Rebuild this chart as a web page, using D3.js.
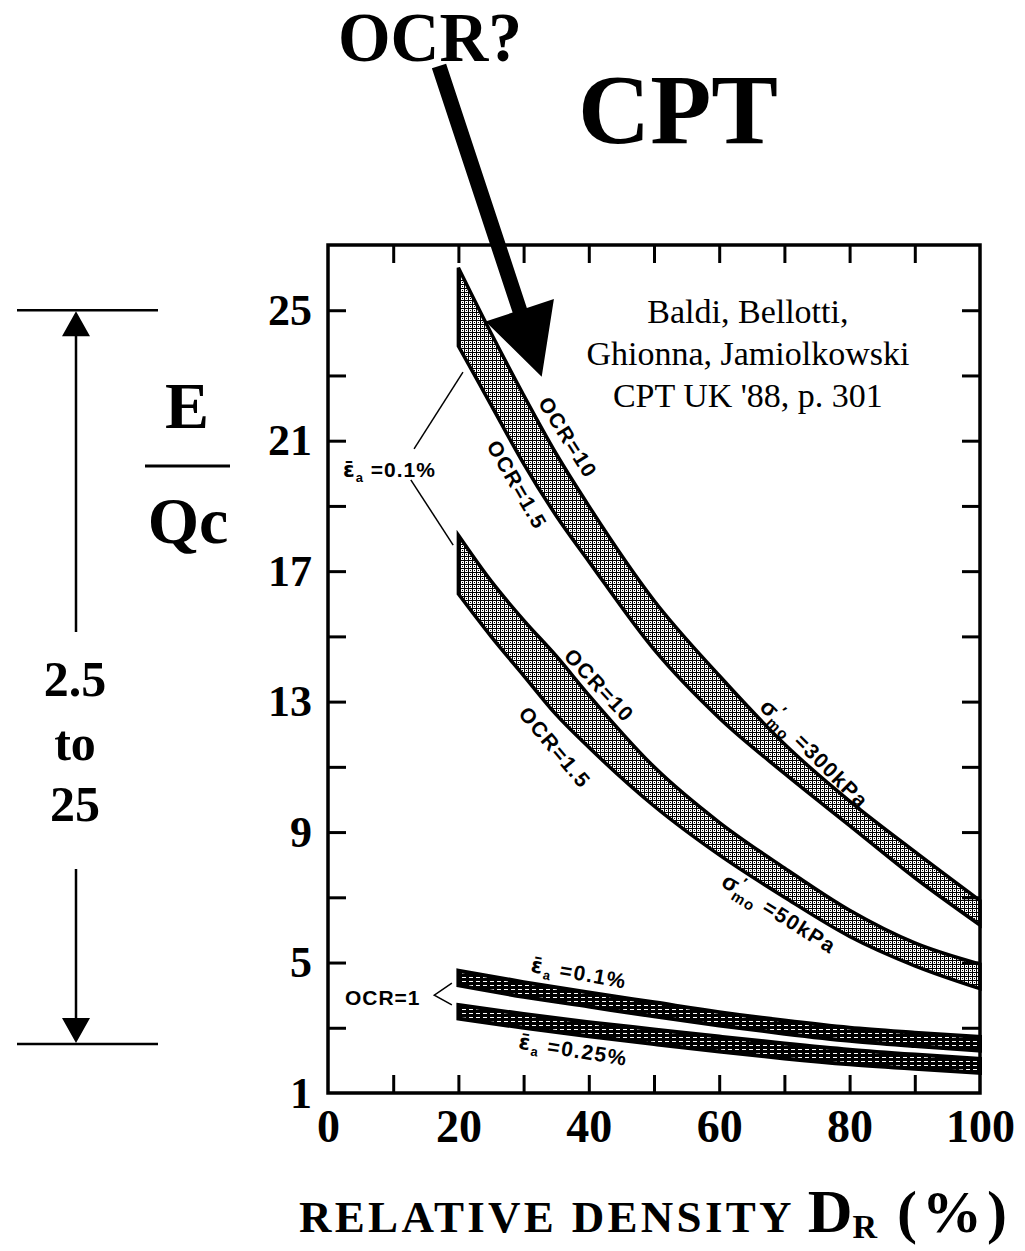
<!DOCTYPE html>
<html>
<head>
<meta charset="utf-8">
<script src="https://cdn.jsdelivr.net/npm/d3@7"></script>
<style>
  body { margin: 0; background: #fff; }
  svg { display: block; }
</style>
</head>
<body>
<div id="chart"></div>
<script>
// Relative density DR (%) where the band edges were read
const densityHigh = [20, 25, 30, 35, 40, 50, 60, 70, 80, 90, 100];
const densityLow = [20, 30, 40, 50, 60, 70, 80, 90, 100];

// E/qc, sigma'mo = 300 kPa band
const s300Ocr10 = [26.3, 24.3, 22.4, 20.6, 19.0, 16.1, 13.8, 11.7, 9.95, 8.4, 6.9];
const s300Ocr15 = [23.9, 22.1, 20.3, 18.7, 17.3, 14.6, 12.5, 10.8, 9.2, 7.6, 6.15];
// E/qc, sigma'mo = 50 kPa band
const s50Ocr10 = [18.1, 16.7, 15.5, 14.4, 13.2, 11.0, 9.3, 7.9, 6.6, 5.6, 4.95];
const s50Ocr15 = [16.3, 15.0, 13.8, 12.6, 11.6, 9.8, 8.3, 7.0, 5.8, 4.9, 4.2];
// E/qc, OCR = 1 bands
const e01Top = [4.75, 4.4, 4.08, 3.78, 3.48, 3.22, 3.0, 2.85, 2.72];
const e01Bot = [4.3, 3.95, 3.65, 3.35, 3.07, 2.82, 2.6, 2.44, 2.3];
const e025Top = [3.7, 3.42, 3.17, 2.95, 2.73, 2.52, 2.33, 2.18, 2.05];
const e025Bot = [3.28, 3.0, 2.74, 2.5, 2.27, 2.06, 1.88, 1.74, 1.62];

const yTicks = [3, 5, 7, 9, 11, 13, 15, 17, 19, 21, 23, 25];
const yLabels = [1, 5, 9, 13, 17, 21, 25];
const xTicks = [10, 20, 30, 40, 50, 60, 70, 80, 90];
const xLabels = [0, 20, 40, 60, 80, 100];

// curve labels: text, DR, E/qc at label centre, angle
const curveLabels = [
    { t: "OCR=10", x: 36.8, y: 21.1, a: 58 },
    { t: "OCR=1.5", x: 29.0, y: 19.65, a: 60 },
    { t: "OCR=10", x: 41.6, y: 13.5, a: 47 },
    { t: "OCR=1.5", x: 34.8, y: 11.6, a: 50 },
    { t: "sig", sub: "300kPa", x: 74.6, y: 11.4, a: 45 },
    { t: "sig", sub: "50kPa", x: 69.2, y: 6.5, a: 32 },
    { t: "eps", sub: "0.1%", x: 38.5, y: 4.68, a: 10 },
    { t: "eps", sub: "0.25%", x: 37.6, y: 2.32, a: 9 }
];

const sans = "Liberation Sans, Arial, sans-serif";
const serif = "Liberation Serif, Times New Roman, serif";

let svg = d3.select("#chart").append("svg")
    .attr("width", 1025)
    .attr("height", 1251);

let x = d3.scaleLinear().domain([0, 100]).range([328, 980]);
let y = d3.scaleLinear().domain([1, 27]).range([1093, 245]);

// fill patterns
let defs = svg.append("defs");
let hatch = defs.append("pattern").attr("id", "hatch")
    .attr("patternUnits", "userSpaceOnUse").attr("width", 4).attr("height", 4);
hatch.append("rect").attr("width", 4).attr("height", 4).attr("fill", "#fff");
hatch.append("path").attr("d", "M0,0h4v1h-4z M0,0h1v4h-1z M2,2h1v1h-1z").attr("fill", "#000");

let dash = defs.append("pattern").attr("id", "dash")
    .attr("patternUnits", "userSpaceOnUse").attr("width", 7).attr("height", 4);
dash.append("rect").attr("width", 7).attr("height", 4).attr("fill", "#000");
dash.append("rect").attr("x", 0).attr("y", 1).attr("width", 4).attr("height", 1).attr("fill", "#fff");

function band(xs, top, bot) {
    return xs.map((d, i) => ({ x: d, hi: top[i], lo: bot[i] }));
}

let area = d3.area()
    .x(d => x(d.x))
    .y0(d => y(d.lo))
    .y1(d => y(d.hi))
    .curve(d3.curveMonotoneX);

let bands = [
    { d: band(densityHigh, s300Ocr10, s300Ocr15), fill: "url(#hatch)", sw: 3.5 },
    { d: band(densityHigh, s50Ocr10, s50Ocr15), fill: "url(#hatch)", sw: 3.5 },
    { d: band(densityLow, e01Top, e01Bot), fill: "url(#dash)", sw: 4 },
    { d: band(densityLow, e025Top, e025Bot), fill: "url(#dash)", sw: 4 }
];

bands.forEach(b => {
    svg.append("path")
        .datum(b.d)
        .attr("fill", b.fill)
        .attr("stroke", "#000")
        .attr("stroke-width", b.sw)
        .attr("stroke-linejoin", "miter")
        .attr("d", area);
});

// epsilon-bar with subscript a, then the value
function epsText(t, val) {
    t.append("tspan").attr("font-family", "DejaVu Sans, sans-serif").text("ε\u0304");
    t.append("tspan").attr("font-size", 13).attr("dy", 5).text("a");
    t.append("tspan").attr("dy", -5).text(" =" + val);
}

// labels along the curves
curveLabels.forEach(l => {
    let t = svg.append("text")
        .attr("transform", "translate(" + x(l.x) + "," + y(l.y) + ") rotate(" + l.a + ")")
        .attr("text-anchor", "middle")
        .attr("dy", "0.35em")
        .attr("font-family", sans)
        .attr("font-weight", "bold")
        .attr("font-size", 21)
        .attr("letter-spacing", 1.5);
    if (l.t === "sig") {
        t.append("tspan").attr("font-size", 23).text("σ");
        t.append("tspan").attr("font-size", 16).attr("dy", -9).text("′");
        t.append("tspan").attr("font-size", 15).attr("dx", -7).attr("dy", 15).text("mo");
        t.append("tspan").attr("dy", -6).text(" =" + l.sub);
    } else if (l.t === "eps") {
        epsText(t, l.sub);
    } else {
        t.text(l.t);
    }
});

// eps label with two leaders
let epsLbl = svg.append("text")
    .attr("x", x(2.3)).attr("y", y(19.9))
    .attr("font-family", sans).attr("font-weight", "bold")
    .attr("font-size", 21).attr("letter-spacing", 1);
epsText(epsLbl, "0.1%");

let leaders = [
    [[13.2, 20.75], [20.7, 23.1]],
    [[12.7, 19.8], [19.2, 17.8]],
    [[19.0, 4.37], [16.3, 4.0], [19.0, 3.7]]
];
leaders.forEach(p => {
    svg.append("path")
        .attr("d", d3.line().x(d => x(d[0])).y(d => y(d[1]))(p))
        .attr("fill", "none")
        .attr("stroke", "#000")
        .attr("stroke-width", 1.5);
});

svg.append("text")
    .attr("x", x(2.6)).attr("y", y(3.7))
    .attr("font-family", sans).attr("font-weight", "bold")
    .attr("font-size", 21).attr("letter-spacing", 1)
    .text("OCR=1");

// citation
["Baldi, Bellotti,", "Ghionna, Jamiolkowski", "CPT UK '88, p. 301"].forEach((s, i) => {
    svg.append("text")
        .attr("x", x(64.4))
        .attr("y", y(24.62) + i * 42)
        .attr("text-anchor", "middle")
        .attr("font-family", serif)
        .attr("font-size", 34)
        .text(s);
});

// frame and ticks
function inward(g) {
    g.select(".domain").remove();
    g.selectAll("line").attr("stroke-width", 3);
}
svg.append("g").attr("transform", "translate(" + x(0) + ",0)")
    .call(d3.axisLeft(y).tickValues(yTicks).tickSize(-18).tickFormat("")).call(inward);
svg.append("g").attr("transform", "translate(" + x(100) + ",0)")
    .call(d3.axisRight(y).tickValues(yTicks).tickSize(-18).tickFormat("")).call(inward);
svg.append("g").attr("transform", "translate(0," + y(27) + ")")
    .call(d3.axisTop(x).tickValues(xTicks).tickSize(-18).tickFormat("")).call(inward);
svg.append("g").attr("transform", "translate(0," + y(1) + ")")
    .call(d3.axisBottom(x).tickValues(xTicks).tickSize(-18).tickFormat("")).call(inward);

svg.append("rect")
    .attr("x", x(0)).attr("y", y(27))
    .attr("width", x(100) - x(0)).attr("height", y(1) - y(27))
    .attr("fill", "none").attr("stroke", "#000").attr("stroke-width", 3.5);

// tick labels
let yAx = svg.append("g").attr("transform", "translate(" + x(0) + ",0)")
    .call(d3.axisLeft(y).tickValues(yLabels).tickSize(0).tickPadding(16));
yAx.select(".domain").remove();
yAx.selectAll("text").attr("font-family", serif).attr("font-weight", "bold").attr("font-size", 44);

let xAx = svg.append("g").attr("transform", "translate(0," + y(1) + ")")
    .call(d3.axisBottom(x).tickValues(xLabels).tickSize(0).tickPadding(16));
xAx.select(".domain").remove();
xAx.selectAll("text").attr("font-family", serif).attr("font-weight", "bold").attr("font-size", 46);

// x axis title
let xt = svg.append("text")
    .attr("x", 299).attr("y", 1232)
    .attr("font-family", serif).attr("font-weight", "bold")
    .attr("font-size", 45).attr("letter-spacing", 3.3);
xt.append("tspan").text("RELATIVE DENSITY ");
xt.append("tspan").attr("font-size", 62).attr("letter-spacing", 0).text("D");
xt.append("tspan").attr("font-size", 34).attr("dy", 6).attr("letter-spacing", 0).text("R");
xt.append("tspan").attr("font-size", 60).attr("dy", -6).attr("letter-spacing", 5).text(" (%)");

// y axis title E / Qc
svg.append("text").attr("x", 187).attr("y", 428)
    .attr("text-anchor", "middle").attr("font-family", serif)
    .attr("font-weight", "bold").attr("font-size", 66).text("E");
svg.append("line").attr("x1", 145).attr("x2", 230).attr("y1", 466).attr("y2", 466)
    .attr("stroke", "#000").attr("stroke-width", 3);
svg.append("text").attr("x", 188).attr("y", 543)
    .attr("text-anchor", "middle").attr("font-family", serif)
    .attr("font-weight", "bold").attr("font-size", 66).text("Qc");

// range dimension 2.5 to 25
let dimTop = y(25), dimBot = y(2.5), dimX = 76;
[dimTop, dimBot].forEach(v => {
    svg.append("line").attr("x1", 17).attr("x2", 158).attr("y1", v).attr("y2", v)
        .attr("stroke", "#000").attr("stroke-width", 2.5);
});
svg.append("line").attr("x1", dimX).attr("x2", dimX).attr("y1", dimTop + 20).attr("y2", 632)
    .attr("stroke", "#000").attr("stroke-width", 2.5);
svg.append("line").attr("x1", dimX).attr("x2", dimX).attr("y1", 869).attr("y2", dimBot - 20)
    .attr("stroke", "#000").attr("stroke-width", 2.5);
svg.append("path")
    .attr("d", "M" + dimX + "," + (dimTop + 1) + "l-14,25h28z M" + dimX + "," + (dimBot - 1) + "l-14,-25h28z")
    .attr("fill", "#000");
[["2.5", 696], ["to", 760], ["25", 821]].forEach(s => {
    svg.append("text").attr("x", 75).attr("y", s[1])
        .attr("text-anchor", "middle").attr("font-family", serif)
        .attr("font-weight", "bold").attr("font-size", 50).text(s[0]);
});

// titles
svg.append("text").attr("x", 338).attr("y", 61)
    .attr("font-family", serif).attr("font-weight", "bold")
    .attr("font-size", 70).attr("textLength", 184).attr("lengthAdjust", "spacingAndGlyphs")
    .text("OCR?");
svg.append("text").attr("x", 578).attr("y", 143)
    .attr("font-family", serif).attr("font-weight", "bold")
    .attr("font-size", 100).text("CPT");

// big pointer arrow
let a0 = [439, 66], tip = [541.7, 376.7];
let len = Math.hypot(tip[0] - a0[0], tip[1] - a0[1]);
let ux = (tip[0] - a0[0]) / len, uy = (tip[1] - a0[1]) / len;
let px = -uy, py = ux;
let headLen = 70, headHalf = 36, shaftHalf = 7.5;
let bx = tip[0] - ux * headLen, by = tip[1] - uy * headLen;
let arrowPts = [
    [a0[0] + px * shaftHalf, a0[1] + py * shaftHalf],
    [bx + px * shaftHalf, by + py * shaftHalf],
    [bx + px * headHalf, by + py * headHalf],
    tip,
    [bx - px * headHalf, by - py * headHalf],
    [bx - px * shaftHalf, by - py * shaftHalf],
    [a0[0] - px * shaftHalf, a0[1] - py * shaftHalf]
];
svg.append("path")
    .attr("d", "M" + arrowPts.map(p => p.join(",")).join("L") + "Z")
    .attr("fill", "#000");
</script>
</body>
</html>
